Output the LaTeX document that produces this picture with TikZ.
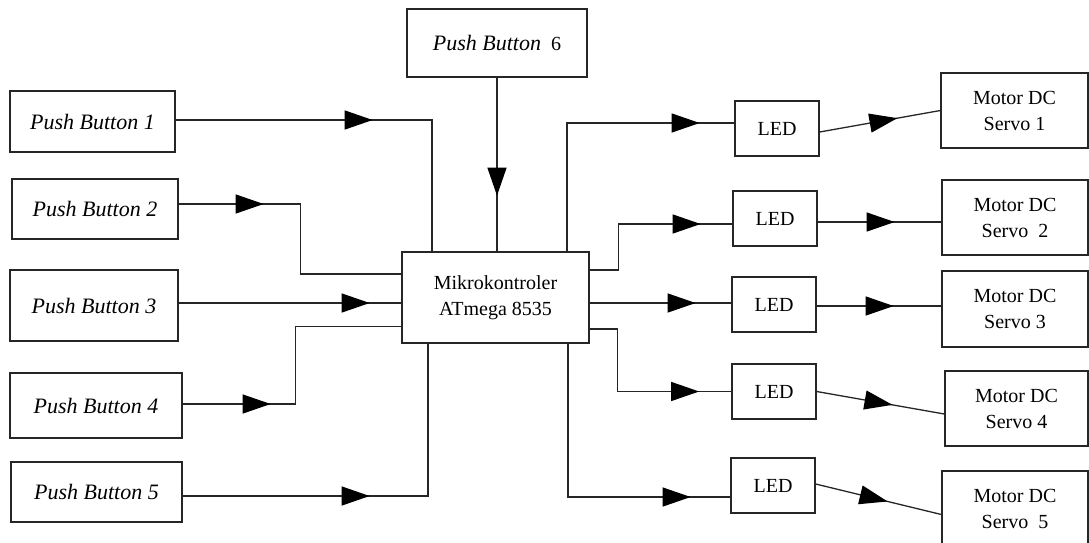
\documentclass[tikz,border=0pt]{standalone}
\usepackage{fontspec}
\setmainfont{Liberation Serif}
\usetikzlibrary{arrows.meta,decorations.markings}
\tikzset{
  box/.style={draw=black!85, line width=1.3pt, inner sep=0pt, align=center,
              font=\fontsize{20}{26}\selectfont},
  pbfont/.style={font=\fontsize{22}{26}\selectfont\itshape},
  conn/.style={draw=black!85, line width=1.3pt, postaction={decorate},
    decoration={markings, mark=at position #1 with {\arrow[black]{Triangle[length=28pt,width=19pt]}}}},
}
\begin{document}
\begin{tikzpicture}[x=1pt,y=-1pt]
\useasboundingbox (0,0) rectangle (1089,542);
\begin{scope}
\clip (0,0) rectangle (1089,542);
% push buttons
\node[box,pbfont,minimum width=165pt,minimum height=61pt] (pb1) at (92.5,121.5) {Push Button 1};
\node[box,pbfont,minimum width=166pt,minimum height=60pt] (pb2) at (95,209) {Push Button 2};
\node[box,pbfont,minimum width=168pt,minimum height=71pt] (pb3) at (94,305.5) {Push Button 3};
\node[box,pbfont,minimum width=172pt,minimum height=65pt] (pb4) at (96,405.5) {Push Button 4};
\node[box,pbfont,minimum width=171pt,minimum height=60pt] (pb5) at (96.5,492) {Push Button 5};
\node[box,minimum width=180pt,minimum height=68pt] (pb6) at (497,43) {{\fontsize{22}{26}\selectfont\itshape Push Button}\ \ 6};
% microcontroller
\node[box,minimum width=187pt,minimum height=91pt] (mk) at (495.5,297.5) {Mikrokontroler\\ATmega 8535};
% LEDs
\node[box,minimum width=84pt,minimum height=55pt] (led1) at (777,128.5) {LED};
\node[box,minimum width=84pt,minimum height=55pt] (led2) at (775,218.5) {LED};
\node[box,minimum width=84pt,minimum height=55pt] (led3) at (774,304.5) {LED};
\node[box,minimum width=84pt,minimum height=55pt] (led4) at (774,391.5) {LED};
\node[box,minimum width=84pt,minimum height=55pt] (led5) at (773,485.5) {LED};
% motors
\node[box,minimum width=147pt,minimum height=75pt] (m1) at (1014.5,110.5) {Motor DC\\Servo 1};
\node[box,minimum width=146pt,minimum height=75pt] (m2) at (1015,217.5) {Motor DC\\Servo\ \ 2};
\node[box,minimum width=146pt,minimum height=76pt] (m3) at (1015,309) {Motor DC\\Servo 3};
\node[box,minimum width=143pt,minimum height=75pt] (m4) at (1016.5,408.5) {Motor DC\\Servo 4};
\node[box,minimum width=146pt,minimum height=75pt] (m5) at (1015,508.5) {Motor DC\\Servo\ \ 5};
\end{scope}
% inputs
\draw[conn=197pt] ([yshift=1.5pt]pb1.east) -| ([xshift=-63.5pt]mk.north);
\draw[conn=85pt] ([yshift=5pt]pb2.east) -- ++(122,0) |- ([yshift=23.5pt]mk.west);
\draw[conn=191pt] ([yshift=2.5pt]pb3.east) -- ([yshift=-5.5pt]mk.west);
\draw[conn=88pt] ([yshift=1.5pt]pb4.east) -- ++(113,0) |- ([yshift=-29pt]mk.west);
\draw[conn=187pt] ([yshift=-4pt]pb5.east) -| ([xshift=-67.5pt]mk.south);
\draw[conn=118pt] (pb6.south) -- (pb6.south |- mk.north);
% outputs to LEDs
\draw[conn=261pt] ([xshift=71.5pt]mk.north) |- ([yshift=5.5pt]led1.west);
\draw[conn=157pt] ([yshift=27.5pt]mk.east) -- ++(29,0) |- ([yshift=-5.5pt]led2.west);
\draw[conn=106pt] ([yshift=-5.5pt]mk.east) -- ([yshift=-5.5pt]mk.east -| led3.west);
\draw[conn=172pt] ([yshift=-31.5pt]mk.east) -- ++(28,0) |- (led4.west);
\draw[conn=276pt] ([xshift=72.5pt]mk.south) |- ([yshift=-11.5pt]led5.west);
% LEDs to motors
\draw[conn=79pt] ([yshift=-3.5pt]led1.east) -- (m1.west);
\draw[conn=77pt] ([yshift=-3.5pt]led2.east) -- ([yshift=-3.5pt]led2.east -| m2.west);
\draw[conn=77pt] ([yshift=-1.5pt]led3.east) -- ([yshift=-1.5pt]led3.east -| m3.west);
\draw[conn=77pt] (led4.east) -- ([yshift=-5.5pt]m4.west);
\draw[conn=74pt] ([yshift=1.5pt]led5.east) -- ([yshift=-6pt]m5.west);
\end{tikzpicture}
\end{document}
